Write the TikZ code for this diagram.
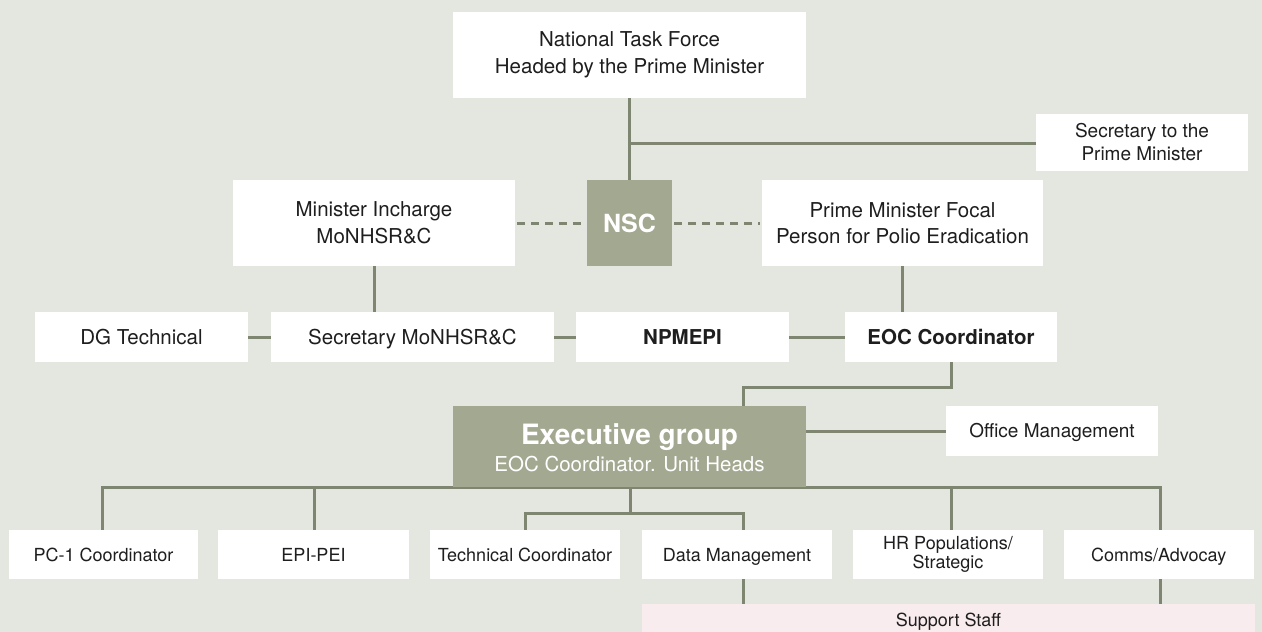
\documentclass[tikz,border=0pt]{standalone}
\usepackage{fontspec}
\setmainfont{TeX Gyre Heros}
\usetikzlibrary{backgrounds}
\definecolor{bg}{HTML}{E4E7E0}
\definecolor{ln}{HTML}{7E8571}
\definecolor{dk}{HTML}{A3A891}
\definecolor{pk}{HTML}{F9ECEF}
\definecolor{tx}{HTML}{1E1E1E}
\tikzset{
  wbox/.style={fill=white, inner sep=0pt, align=center, text=tx, font=\fontsize{20.5}{26.5}\selectfont},
  sbox/.style={wbox, font=\fontsize{19}{23}\selectfont},
  rbox/.style={wbox, font=\fontsize{18}{19}\selectfont},
  one/.style={text height=14.6pt, text depth=0pt},
  sone/.style={text height=13.2pt, text depth=0pt},
  gbox/.style={fill=dk, inner sep=0pt, align=center, text=white},
  conn/.style={draw=ln, line width=3pt},
  dconn/.style={conn, dash pattern=on 8pt off 6pt}
}
\begin{document}
\begin{tikzpicture}[x=1pt,y=-1pt]
\useasboundingbox (0,0) rectangle (1262,632);
% row 1
\node[wbox, minimum width=353, minimum height=86] (ntf) at (629.5,55) {National Task Force\\Headed by the Prime Minister};
\node[sbox, minimum width=212, minimum height=57] (secpm) at (1142,142.5) {Secretary to the\\Prime Minister};
% row 2
\node[wbox, minimum width=282, minimum height=86] (min) at (374,223) {Minister Incharge\\MoNHSR\&C};
\node[gbox, one, text height=18pt, minimum width=85, minimum height=86, font=\fontsize{25}{28}\selectfont\bfseries] (nsc) at (629.5,223) {NSC};
\node[wbox, minimum width=281, minimum height=86] (pmf) at (902.5,223) {Prime Minister Focal\\Person for Polio Eradication};
% row 3
\node[wbox, one, minimum width=213, minimum height=50] (dg) at (141.5,337) {DG Technical};
\node[wbox, one, minimum width=283, minimum height=50] (secmo) at (412.5,337) {Secretary MoNHSR\&C};
\node[wbox, one, minimum width=213, minimum height=50, font=\fontsize{20.5}{24}\selectfont\bfseries] (npm) at (682.5,337) {NPMEPI};
\node[wbox, one, minimum width=212, minimum height=50, font=\fontsize{20.5}{24}\selectfont\bfseries] (eoc) at (951,337) {EOC Coordinator};
% executive
\node[gbox, minimum width=353, minimum height=81] (exec) at (629.5,446.5) {};
\node[text=white, font=\fontsize{28}{30}\selectfont\bfseries, inner sep=0pt, anchor=base] (exect) at (629.5,444) {Executive group};
\node[text=white, font=\fontsize{20.5}{24}\selectfont, inner sep=0pt, anchor=base] (execs) at (629.5,471) {EOC Coordinator. Unit Heads};
\node[sbox, sone, minimum width=212, minimum height=50] (off) at (1052,431) {Office Management};
% row 4
\node[rbox, sone, minimum width=189, minimum height=49] (pc1) at (103.5,554.5) {PC-1 Coordinator};
\node[rbox, sone, minimum width=191, minimum height=49] (epi) at (313.5,554.5) {EPI-PEI};
\node[rbox, sone, minimum width=190, minimum height=49] (tech) at (525,554.5) {Technical Coordinator};
\node[rbox, sone, minimum width=190, minimum height=49] (data) at (737,554.5) {Data Management};
\node[rbox, minimum width=190, minimum height=49] (hr) at (948,554.5) {HR Populations/\\Strategic};
\node[rbox, sone, minimum width=190, minimum height=49] (comms) at (1158.7,554.5) {Comms/Advocay};
\node[rbox, fill=pk, minimum width=613, minimum height=36] (sup) at (948.5,622) {Support Staff};
% coordinates
\coordinate (j1) at (629.5,143);
\coordinate (e1) at (951,387);
\coordinate (e2) at (743,387);
\coordinate (b0) at (102,487);
\coordinate (b1) at (314,487);
\coordinate (b2) at (951,487);
\coordinate (b3) at (1160,487);
\coordinate (c0) at (630,487);
\coordinate (c1) at (630,513);
\coordinate (c2) at (525,513);
\coordinate (c3) at (743,513);
\begin{scope}[on background layer]
\fill[bg] (0,0) rectangle (1262,632);
\draw[conn] (ntf.south) -- (nsc.north);
\draw[conn] (j1) -- (secpm.west |- j1);
\draw[dconn] ([xshift=2pt]min.east) -- ([xshift=-2pt]nsc.west);
\draw[dconn] ([xshift=2pt]nsc.east) -- ([xshift=-2pt]pmf.west);
\draw[conn] (min.south) -- (min.south |- secmo.north);
\draw[conn] (pmf.south) -- (pmf.south |- eoc.north);
\draw[conn] (dg) -- (secmo);
\draw[conn] (secmo) -- (npm);
\draw[conn] (npm) -- (eoc);
\draw[conn] (eoc.south -| e1) -- (e1) -- (e2) -- (e2 |- exec.north);
\draw[conn] (exec.east |- off.west) -- (off.west);
\draw[conn] (pc1.north -| b0) -- (b0) -- (b3) -- (b3 |- comms.north);
\draw[conn] (b1) -- (b1 |- epi.north);
\draw[conn] (b2) -- (b2 |- hr.north);
\draw[conn] (c0) -- (c1);
\draw[conn] (c2 |- tech.north) -- (c2) -- (c3) -- (c3 |- data.north);
\draw[conn] (c3 |- data.south) -- (c3 |- sup.north);
\draw[conn] (b3 |- comms.south) -- (b3 |- sup.north);
\end{scope}
\end{tikzpicture}
\end{document}
